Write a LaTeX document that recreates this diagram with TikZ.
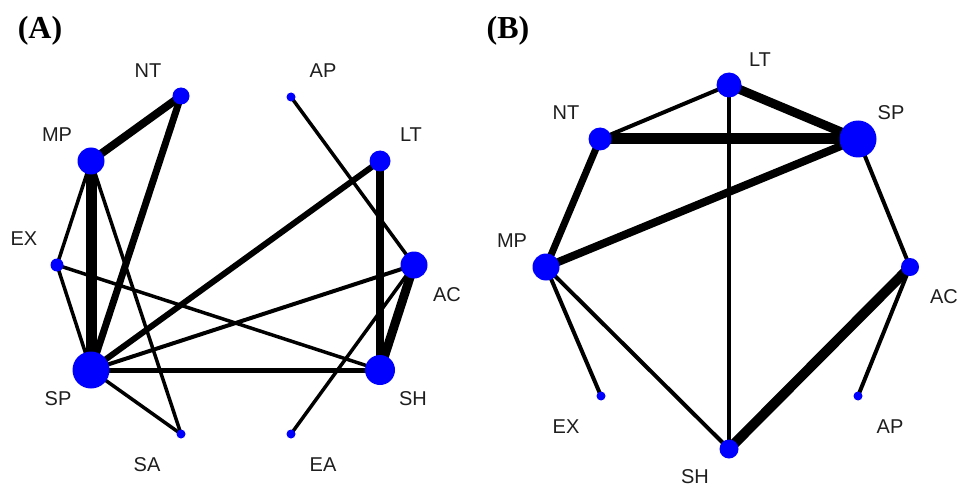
\documentclass[tikz,border=0pt]{standalone}
\usepackage{fontspec}
\setmainfont{Liberation Serif}
\newfontfamily\labfont{Liberation Sans}
\usetikzlibrary{backgrounds}
\definecolor{vblue}{RGB}{0,0,255}
\definecolor{labgray}{RGB}{30,30,30}
\begin{document}
\begin{tikzpicture}[x=1pt,y=-1pt,
  vert/.style={circle,fill=vblue,inner sep=0pt,minimum size=#1},
  lab/.style={font=\labfont\fontsize{20}{20}\selectfont,text=labgray,inner sep=0pt},
  panel/.style={font=\fontsize{32}{32}\selectfont\bfseries,inner sep=0pt},
  edge/.style={draw=black,line width=#1}]
\useasboundingbox (0,0) rectangle (957,489);
% ---------- Panel A ----------
\node[panel] (pA) at (40,31) {(A)};
\node[vert=17] (aNT) at (181,96) {};
\node[vert=9]  (aAP) at (291,97) {};
\node[vert=27] (aMP) at (91,161) {};
\node[vert=21] (aLT) at (380,161) {};
\node[vert=13] (aEX) at (57,265) {};
\node[vert=27] (aAC) at (414,265) {};
\node[vert=37] (aSP) at (91,370) {};
\node[vert=30] (aSH) at (380,370) {};
\node[vert=9]  (aSA) at (181,434) {};
\node[vert=9]  (aEA) at (291,434) {};
\node[lab] (laNT) at (148,71) {NT};
\node[lab] (laAP) at (323,71) {AP};
\node[lab] (laMP) at (57,135) {MP};
\node[lab] (laLT) at (411,135) {LT};
\node[lab] (laEX) at (24,239) {EX};
\node[lab] (laAC) at (447,295) {AC};
\node[lab] (laSP) at (58,399) {SP};
\node[lab] (laSH) at (413,399) {SH};
\node[lab] (laSA) at (147,465) {SA};
\node[lab] (laEA) at (323,465) {EA};
% ---------- Panel B ----------
\node[panel] (pB) at (508,31) {(B)};
\node[vert=25] (bLT) at (729,85) {};
\node[vert=23] (bNT) at (600,139) {};
\node[vert=37] (bSP) at (858,139) {};
\node[vert=27] (bMP) at (546,267) {};
\node[vert=18] (bAC) at (910,267) {};
\node[vert=9]  (bEX) at (601,396) {};
\node[vert=9]  (bAP) at (858,396) {};
\node[vert=19] (bSH) at (729,449) {};
\node[lab] (lbLT) at (760,60) {LT};
\node[lab] (lbNT) at (566,113) {NT};
\node[lab] (lbSP) at (891,113) {SP};
\node[lab] (lbMP) at (512,241) {MP};
\node[lab] (lbAC) at (944,297) {AC};
\node[lab] (lbEX) at (566,427) {EX};
\node[lab] (lbAP) at (890,427) {AP};
\node[lab] (lbSH) at (695,477) {SH};
\begin{pgfonlayer}{background}
% Panel A edges
\draw[edge=8]  (aMP.center) -- (aNT.center);
\draw[edge=7]  (aNT.center) -- (aSP.center);
\draw[edge=11] (aMP.center) -- (aSP.center);
\draw[edge=3.5] (aMP.center) -- (aEX.center);
\draw[edge=3.5] (aMP.center) -- (aSA.center);
\draw[edge=3.5] (aEX.center) -- (aSP.center);
\draw[edge=3.5] (aEX.center) -- (aSH.center);
\draw[edge=6]  (aSP.center) -- (aLT.center);
\draw[edge=4]  (aSP.center) -- (aAC.center);
\draw[edge=5]  (aSP.center) -- (aSH.center);
\draw[edge=3.5] (aSP.center) -- (aSA.center);
\draw[edge=8]  (aLT.center) -- (aSH.center);
\draw[edge=9]  (aAC.center) -- (aSH.center);
\draw[edge=3.5] (aAP.center) -- (aAC.center);
\draw[edge=3.5] (aEA.center) -- (aAC.center);
% Panel B edges
\draw[edge=4]  (bNT.center) -- (bLT.center);
\draw[edge=9]  (bLT.center) -- (bSP.center);
\draw[edge=11] (bNT.center) -- (bSP.center);
\draw[edge=4]  (bLT.center) -- (bSH.center);
\draw[edge=7]  (bNT.center) -- (bMP.center);
\draw[edge=8]  (bMP.center) -- (bSP.center);
\draw[edge=4]  (bSP.center) -- (bAC.center);
\draw[edge=4]  (bMP.center) -- (bEX.center);
\draw[edge=4]  (bMP.center) -- (bSH.center);
\draw[edge=10] (bAC.center) -- (bSH.center);
\draw[edge=4]  (bAC.center) -- (bAP.center);
\end{pgfonlayer}
\end{tikzpicture}
\end{document}
